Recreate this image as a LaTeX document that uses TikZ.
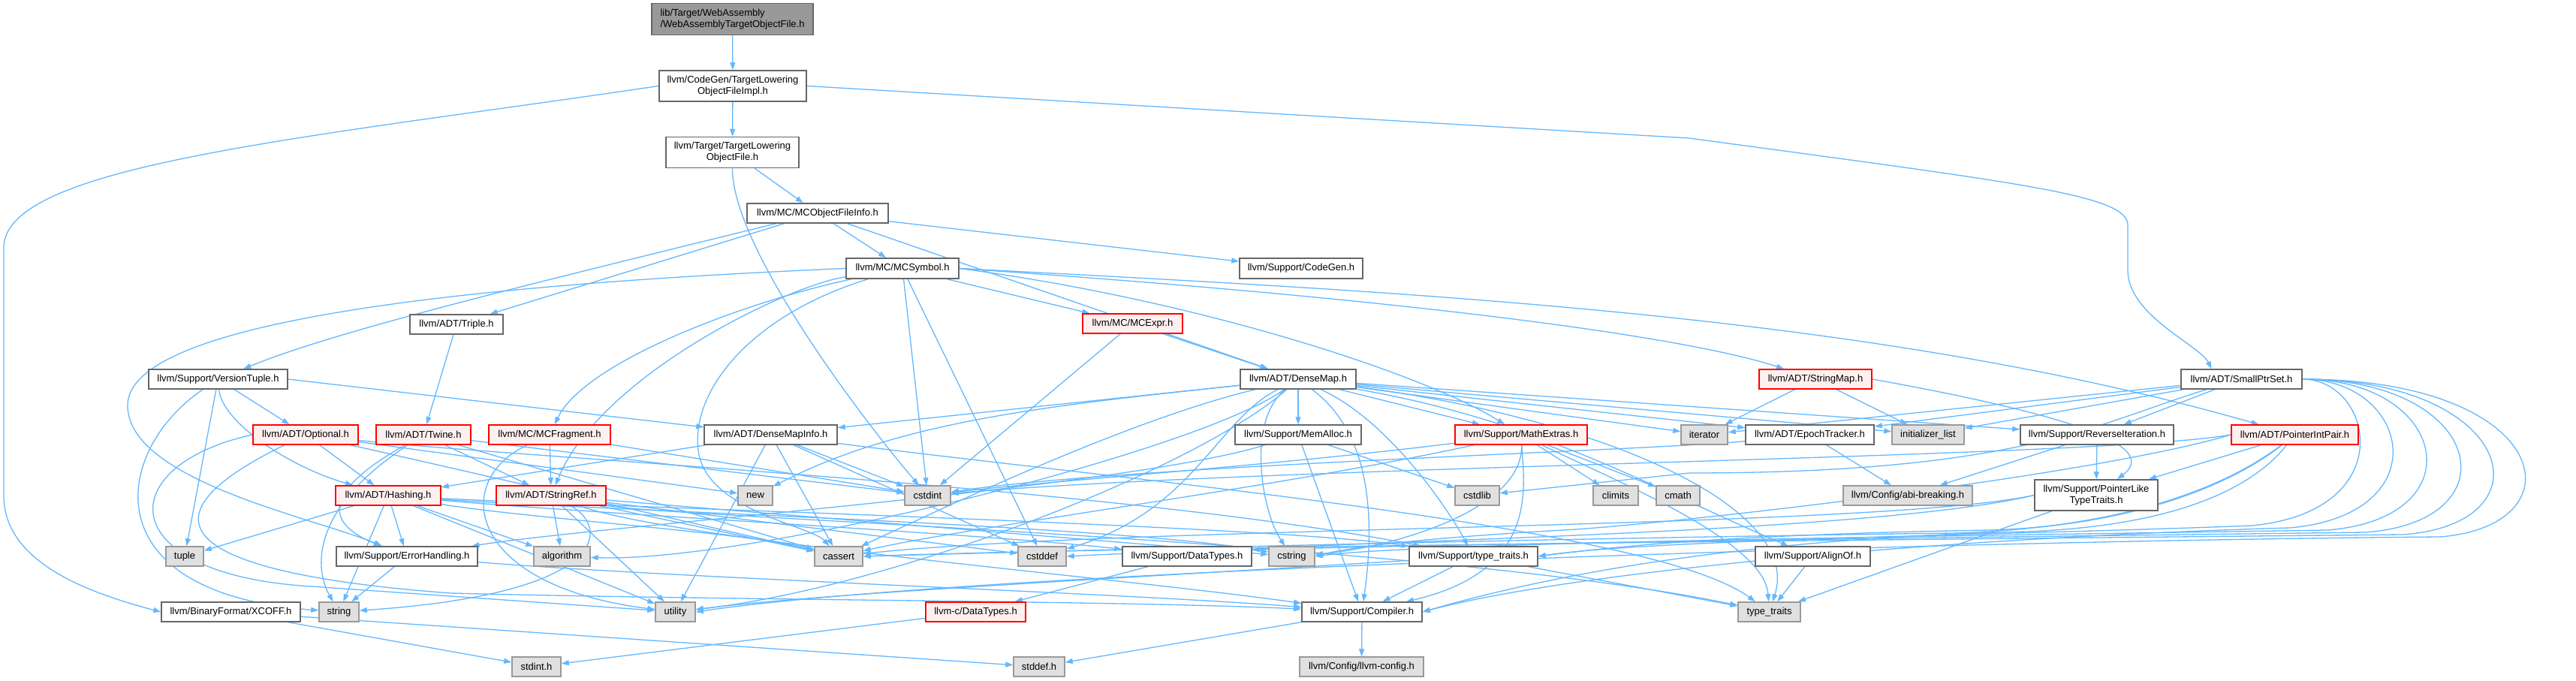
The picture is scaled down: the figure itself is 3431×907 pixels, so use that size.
\documentclass[tikz,border=0pt]{standalone}
\usepackage{fontspec}
\setmainfont{Liberation Sans}
\usetikzlibrary{arrows.meta,backgrounds}
\pgfdeclarelayer{bottom}
\pgfsetlayers{bottom,background,main}
\definecolor{edgec}{HTML}{63B8FF}
\definecolor{wborder}{HTML}{666666}
\definecolor{gborder}{HTML}{999999}
\definecolor{gfill}{HTML}{E0E0E0}
\definecolor{rfill}{HTML}{FFF0F0}
\definecolor{rootfill}{HTML}{999999}
\newcommand{\mknode}[7]{\node[#1,minimum width=#5pt,minimum height=#6pt] (#2) at (#3,#4) {#7};}
\begin{document}
\begin{tikzpicture}[x=1pt,y=-1pt,
  every node/.style={font=\fontsize{13}{15}\selectfont, align=center, inner sep=0pt, rectangle},
  wn/.style={draw=wborder, fill=white, line width=1.5pt},
  rn/.style={draw=red, fill=rfill, line width=1.5pt},
  gn/.style={draw=gborder, fill=gfill, line width=1.5pt},
  rootn/.style={draw=wborder, fill=rootfill, line width=1.5pt, align=left},
  e/.style={draw=edgec, line width=1.3pt, -{Triangle[length=10pt,width=7pt]}}]
\useasboundingbox (0,0) rectangle (3431,907);
\begin{pgfonlayer}{bottom}
\fill[white] (0,0) rectangle (3431,907);
\end{pgfonlayer}
% nodes
\mknode{rootn}{root}{975.5}{25.5}{215}{42}{lib/Target/WebAssembly\\/WebAssemblyTargetObjectFile.h}
\mknode{wn}{tloi}{976}{114.5}{196}{41}{llvm/CodeGen/TargetLowering\\ObjectFileImpl.h}
\mknode{wn}{tlof}{975.5}{203}{177}{41}{llvm/Target/TargetLowering\\ObjectFile.h}
\mknode{wn}{mcofi}{1089}{284}{188}{26}{llvm/MC/MCObjectFileInfo.h}
\mknode{wn}{triple}{608}{432}{124}{26}{llvm/ADT/Triple.h}
\mknode{wn}{mcsym}{1202}{357.5}{150}{27}{llvm/MC/MCSymbol.h}
\mknode{wn}{codegen}{1733}{357.5}{164}{27}{llvm/Support/CodeGen.h}
\mknode{rn}{mcexpr}{1508.5}{431}{133}{26}{llvm/MC/MCExpr.h}
\mknode{wn}{vtuple}{290.5}{505}{185}{26}{llvm/Support/VersionTuple.h}
\mknode{wn}{densemap}{1729}{505}{154}{26}{llvm/ADT/DenseMap.h}
\mknode{rn}{stringmap}{2418}{505}{150}{26}{llvm/ADT/StringMap.h}
\mknode{wn}{sps}{2985.5}{505}{161}{26}{llvm/ADT/SmallPtrSet.h}
\mknode{rn}{optional}{407}{579}{140}{26}{llvm/ADT/Optional.h}
\mknode{rn}{twine}{564}{579}{126}{26}{llvm/ADT/Twine.h}
\mknode{rn}{mcfrag}{732}{579}{162}{26}{llvm/MC/MCFragment.h}
\mknode{wn}{dmi}{1026.5}{579}{177}{26}{llvm/ADT/DenseMapInfo.h}
\mknode{wn}{memalloc}{1729}{579}{168}{26}{llvm/Support/MemAlloc.h}
\mknode{rn}{mathextras}{2026}{579}{176}{26}{llvm/Support/MathExtras.h}
\mknode{gn}{iterator}{2270}{579}{62}{26}{iterator}
\mknode{wn}{epoch}{2410.5}{579}{171}{26}{llvm/ADT/EpochTracker.h}
\mknode{gn}{initlist}{2568}{579}{96}{26}{initializer\_list}
\mknode{wn}{reviter}{2793}{579}{204}{26}{llvm/Support/ReverseIteration.h}
\mknode{rn}{pip}{3056.5}{579}{169}{26}{llvm/ADT/PointerIntPair.h}
\mknode{rn}{hashing}{517}{660}{140}{26}{llvm/ADT/Hashing.h}
\mknode{rn}{stringref}{734}{660}{146}{26}{llvm/ADT/StringRef.h}
\mknode{gn}{new}{1006}{660}{46}{26}{new}
\mknode{gn}{cstdint}{1235.5}{660}{61}{26}{cstdint}
\mknode{gn}{cstdlib}{1967.5}{660}{59}{26}{cstdlib}
\mknode{gn}{climits}{2152}{660}{60}{26}{climits}
\mknode{gn}{cmath}{2235}{660}{58}{26}{cmath}
\mknode{gn}{abibreak}{2541}{660}{172}{26}{llvm/Config/abi-breaking.h}
\mknode{wn}{pltt}{2792}{659.5}{164}{41}{llvm/Support/PointerLike\\TypeTraits.h}
\mknode{gn}{tuple}{246}{741}{50}{26}{tuple}
\mknode{wn}{errh}{542}{741}{188}{26}{llvm/Support/ErrorHandling.h}
\mknode{gn}{algorithm}{748.5}{741}{75}{26}{algorithm}
\mknode{gn}{cassert}{1117}{741}{64}{26}{cassert}
\mknode{gn}{cstddef}{1388}{741}{64}{26}{cstddef}
\mknode{wn}{datatypes}{1581}{741}{172}{26}{llvm/Support/DataTypes.h}
\mknode{gn}{cstring}{1720.5}{741}{61}{26}{cstring}
\mknode{wn}{typetraitsh}{1962.5}{741}{171}{26}{llvm/Support/type\_traits.h}
\mknode{wn}{alignof}{2414.5}{741}{153}{26}{llvm/Support/AlignOf.h}
\mknode{wn}{xcoff}{307.5}{815}{185}{26}{llvm/BinaryFormat/XCOFF.h}
\mknode{gn}{string}{451.5}{815}{53}{26}{string}
\mknode{gn}{utility}{899.5}{815}{53}{26}{utility}
\mknode{rn}{llvmcdt}{1299.5}{815}{133}{26}{llvm-c/DataTypes.h}
\mknode{wn}{compiler}{1814}{815}{160}{26}{llvm/Support/Compiler.h}
\mknode{gn}{typetraits}{2356.5}{815}{83}{26}{type\_traits}
\mknode{gn}{stdint}{714.5}{888}{65}{26}{stdint.h}
\mknode{gn}{stddef}{1384}{888}{68}{26}{stddef.h}
\mknode{gn}{llvmconfig}{1813.5}{888}{165}{26}{llvm/Config/llvm-config.h}
% edges
\begin{pgfonlayer}{background}
\draw[e] (root) -- (tloi);
\draw[e] (tloi) -- (tlof);
\draw[e] (tloi.west) .. controls (400,185) and (5,220) .. (5,330) -- (5,660) .. controls (5,750) and (120,790) .. (xcoff.west);
\draw[e] (tloi.east) -- (2250,184) .. controls (2700,245) and (2834,260) .. (2834,300) -- (2834,360) .. controls (2834,420) and (2930,460) .. (sps.161);
\draw[e] (tlof) -- (mcofi);
\draw[e] (tlof.south) .. controls (975,330) and (1150,560) .. (cstdint);
\draw[e] (mcofi) -- (mcsym);
\draw[e] (mcofi) -- (codegen);
\draw[e] (mcofi) -- (triple);
\draw[e] (mcofi) .. controls (700,380) and (450,440) .. (vtuple);
\draw[e] (mcofi) -- (densemap);
% MCSymbol
\draw[e] (mcsym) -- (mcexpr);
\draw[e] (mcsym.east) .. controls (1900,400) and (2250,450) .. (stringmap);
\draw[e] (mcsym.east) .. controls (1900,390) and (2500,420) .. (pip);
\draw[e] (mcsym.east) .. controls (1600,400) and (1900,500) .. (mathextras);
\draw[e] (mcsym) .. controls (1000,400) and (780,480) .. (mcfrag);
\draw[e] (mcsym) .. controls (1050,380) and (800,500) .. (stringref);
\draw[e] (mcsym) -- (cstdint);
\draw[e] (mcsym) -- (cstddef);
\draw[e] (mcsym) .. controls (1000,420) and (920,520) .. (930,600) .. controls (940,680) and (1080,700) .. (cassert);
\draw[e] (mcsym.west) .. controls (600,380) and (170,430) .. (170,540) .. controls (170,640) and (420,690) .. (errh);
% MCExpr
\draw[e] (mcexpr) -- (densemap);
\draw[e] (mcexpr) -- (cstdint);
\draw[e] (triple) -- (twine);
% VersionTuple
\draw[e] (vtuple) -- (optional);
\draw[e] (vtuple) .. controls (295,560) and (380,620) .. (hashing);
\draw[e] (vtuple.east) -- (dmi);
\draw[e] (vtuple) -- (tuple);
\draw[e] (vtuple) .. controls (150,600) and (120,790) .. (string);
% Optional
\draw[e] (optional) -- (hashing);
\draw[e] (optional) -- (new);
\draw[e] (optional) -- (cassert);
\draw[e] (optional.west) .. controls (150,620) and (150,760) .. (400,780) -- (utility);
\draw[e] (optional) .. controls (200,680) and (200,760) .. (600,790) .. controls (1000,800) and (1500,800) .. (compiler);
\draw[e] (optional) .. controls (700,610) and (1500,650) .. (typetraitsh);
% Twine
\draw[e] (twine) -- (stringref);
\draw[e] (twine) .. controls (420,660) and (440,700) .. (errh);
\draw[e] (twine) .. controls (410,680) and (420,760) .. (string);
\draw[e] (twine) -- (cassert);
\draw[e] (twine) -- (cstdint);
% MCFragment
\draw[e] (mcfrag) -- (stringref);
\draw[e] (mcfrag) -- (cstdint);
\draw[e] (mcfrag) .. controls (600,640) and (620,780) .. (utility);
% DenseMapInfo
\draw[e] (dmi) -- (hashing);
\draw[e] (dmi) -- (cassert);
\draw[e] (dmi) -- (cstddef);
\draw[e] (dmi) -- (cstdint);
\draw[e] (dmi) -- (utility);
\draw[e] (dmi) .. controls (1500,640) and (2200,700) .. (typetraits);
% DenseMap
\draw[e] (densemap) -- (dmi);
\draw[e] (densemap) -- (memalloc);
\draw[e] (densemap) -- (mathextras);
\draw[e] (densemap) -- (iterator);
\draw[e] (densemap) -- (epoch);
\draw[e] (densemap) -- (initlist);
\draw[e] (densemap) -- (reviter);
\draw[e] (densemap) .. controls (2050,560) and (2200,650) .. (alignof);
\draw[e] (densemap) .. controls (2150,560) and (2400,680) .. (typetraits);
\draw[e] (densemap) .. controls (1830,580) and (1830,700) .. (compiler);
\draw[e] (densemap) .. controls (1850,560) and (1930,680) .. (typetraitsh);
\draw[e] (densemap) .. controls (1660,560) and (1680,680) .. (cstring);
\draw[e] (densemap) .. controls (1620,560) and (1590,680) .. (cstddef);
\draw[e] (densemap) .. controls (1500,560) and (1250,680) .. (cassert);
\draw[e] (densemap) .. controls (1400,540) and (1200,560) .. (new);
\draw[e] (densemap) .. controls (1600,600) and (1000,750) .. (algorithm);
\draw[e] (densemap) .. controls (1600,620) and (1200,780) .. (utility);
% MemAlloc
\draw[e] (memalloc) -- (compiler);
\draw[e] (memalloc) -- (cstdlib);
\draw[e] (memalloc) .. controls (1500,650) and (800,700) .. (errh);
% MathExtras
\draw[e] (mathextras) -- (climits);
\draw[e] (mathextras) -- (cmath);
\draw[e] (mathextras) .. controls (2030,650) and (2050,760) .. (compiler);
\draw[e] (mathextras) .. controls (1700,620) and (1400,640) .. (cstdint);
\draw[e] (mathextras) .. controls (1700,650) and (1300,700) .. (cassert);
\draw[e] (mathextras) .. controls (2030,680) and (1850,730) .. (cstring);
\draw[e] (mathextras) .. controls (2150,640) and (2350,720) .. (typetraits);
% StringMap
\draw[e] (stringmap) -- (iterator);
\draw[e] (stringmap) -- (initlist);
\draw[e] (stringmap.east) .. controls (2800,560) and (2870,600) .. (pltt);
% SmallPtrSet
\draw[e] (sps) -- (iterator);
\draw[e] (sps) -- (initlist);
\draw[e] (sps) -- (reviter);
\draw[e] (sps) -- (epoch);
\draw[e] (sps) .. controls (2800,560) and (2700,630) .. (2250,630) -- (cstdlib);
\draw[e] (sps.east) .. controls (3160,505) and (3200,680) .. (3000,700) .. controls (2700,712) and (2200,718) .. (typetraitsh.east);
\draw[e] (sps.east) .. controls (3210,505) and (3250,685) .. (3050,703) .. controls (2600,716) and (2100,760) .. (compiler.east);
\draw[e] (sps.east) .. controls (3260,505) and (3300,690) .. (3100,706) .. controls (2600,714) and (1900,722) .. (cstring.east);
\draw[e] (sps.east) .. controls (3310,505) and (3350,695) .. (3150,709) .. controls (2600,716) and (1700,726) .. (cstddef.east);
\draw[e] (sps.east) .. controls (3350,505) and (3400,698) .. (3200,712) .. controls (2600,718) and (1500,728) .. (cassert.east);
\draw[e] (sps.east) .. controls (3400,505) and (3440,700) .. (3250,715) .. controls (2600,720) and (1300,760) .. (utility.east);
% PointerIntPair
\draw[e] (pip) -- (pltt);
\draw[e] (pip) .. controls (3000,650) and (2900,700) .. (2700,708) .. controls (2300,718) and (2050,770) .. (compiler.east);
\draw[e] (pip) .. controls (2980,640) and (2850,700) .. (2650,706) .. controls (2300,712) and (2150,728) .. (typetraitsh.east);
\draw[e] (pip.west) .. controls (2800,610) and (1700,620) .. (cstdint);
\draw[e] (pip) .. controls (2950,660) and (2800,705) .. (2600,710) .. controls (2000,718) and (1400,734) .. (cassert.east);
\draw[e] (pip.west) .. controls (2800,630) and (2300,690) .. (2100,705) .. controls (1900,716) and (1800,728) .. (cstring.east);
% EpochTracker, ReverseIteration
\draw[e] (epoch) -- (abibreak);
\draw[e] (epoch) .. controls (2200,600) and (1500,620) .. (cstdint);
\draw[e] (reviter) -- (abibreak);
\draw[e] (reviter) -- (pltt);
% PointerLikeTypeTraits
\draw[e] (pltt) -- (typetraits);
\draw[e] (pltt.west) .. controls (2500,710) and (1800,720) .. (datatypes);
\draw[e] (pltt.west) .. controls (2500,705) and (1500,700) .. (cassert);
\draw[e] (alignof) -- (typetraits);
% Hashing
\draw[e] (hashing) -- (tuple);
\draw[e] (hashing) -- (string);
\draw[e] (hashing) -- (errh);
\draw[e] (hashing) -- (algorithm);
\draw[e] (hashing) -- (utility);
\draw[e] (hashing) .. controls (700,690) and (1000,710) .. (cassert);
\draw[e] (hashing) .. controls (800,680) and (1500,700) .. (cstring);
\draw[e] (hashing) .. controls (800,685) and (1300,710) .. (datatypes);
\draw[e] (hashing) .. controls (800,675) and (1700,700) .. (typetraitsh);
% StringRef
\draw[e] (stringref) -- (algorithm);
\draw[e] (stringref) .. controls (810,700) and (820,790) .. (string);
\draw[e] (stringref) -- (utility);
\draw[e] (stringref) -- (cassert);
\draw[e] (stringref) -- (cstddef);
\draw[e] (stringref) -- (cstring);
\draw[e] (stringref) .. controls (900,720) and (1500,770) .. (compiler);
\draw[e] (stringref) .. controls (900,690) and (1900,720) .. (typetraits);
% ErrorHandling etc.
\draw[e] (errh) -- (string);
\draw[e] (errh) .. controls (900,770) and (1500,790) .. (compiler);
\draw[e] (typetraitsh) -- (compiler);
\draw[e] (typetraitsh) -- (typetraits);
\draw[e] (typetraitsh) .. controls (1500,770) and (1100,790) .. (utility);
\draw[e] (datatypes) -- (llvmcdt);
\draw[e] (llvmcdt) -- (stdint);
\draw[e] (compiler) -- (llvmconfig);
\draw[e] (compiler) -- (stddef);
\draw[e] (xcoff) -- (stdint);
\draw[e] (xcoff) -- (stddef);
\end{pgfonlayer}
\end{tikzpicture}
\end{document}
